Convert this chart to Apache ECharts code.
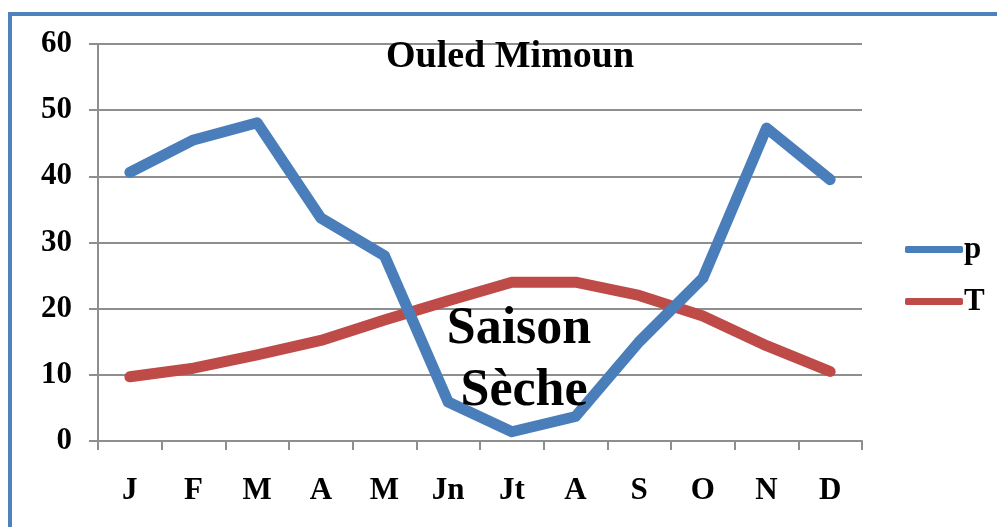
<!DOCTYPE html>
<html>
<head>
<meta charset="utf-8">
<title>Ouled Mimoun</title>
<script src="https://cdn.jsdelivr.net/npm/echarts@6/dist/echarts.min.js"></script>
<style>
    html, body { margin: 0; padding: 0; background: #fff; }
    #chart { width: 997px; height: 527px; }
</style>
</head>
<body>
<div id="chart"></div>
<script>
    // mois
    const months = ['J', 'F', 'M', 'A', 'M', 'Jn', 'Jt', 'A', 'S', 'O', 'N', 'D'];
    // précipitations (p) et températures (T)
    const pValues = [40.6, 45.5, 48.1, 33.7, 28.0, 5.9, 1.4, 3.7, 15.0, 24.6, 47.3, 39.5];
    const tValues = [9.7, 11.0, 13.0, 15.2, 18.3, 21.2, 24.0, 24.0, 22.0, 18.9, 14.4, 10.5];
    const yTicks = [0, 10, 20, 30, 40, 50, 60];

    const serif = '"Liberation Serif", "DejaVu Serif", serif';
    const gridGray = '#8e8e8e';
    const blue = '#4A7EBB';
    const red = '#BE4B48';

    const chart = echarts.init(document.getElementById('chart'), null, {renderer: 'canvas'});

    chart.setOption({
        backgroundColor: '#fff',
        animation: false,
        title: {
            text: 'Ouled Mimoun',
            left: 505,
            top: 33,
            textAlign: 'center',
            textStyle: {
                fontFamily: serif,
                fontWeight: 'bold',
                fontSize: 38,
                lineHeight: 38,
                color: '#000'
            }
        },
        legend: {
            orient: 'vertical',
            left: 900,
            top: 229,
            itemWidth: 58,
            itemHeight: 7,
            itemGap: 21,
            icon: 'roundRect',
            textStyle: {
                fontFamily: serif,
                fontWeight: 'bold',
                fontSize: 31,
                lineHeight: 30,
                color: '#000',
                padding: [0, 0, 0, -4]
            },
            data: [
                {name: 'p', itemStyle: {color: blue}},
                {name: 'T', itemStyle: {color: red}}
            ]
        },
        grid: {
            left: 98,
            right: 135,
            top: 44,
            bottom: 86,
            containLabel: false
        },
        xAxis: {
            type: 'category',
            data: months,
            boundaryGap: true,
            axisLine: {lineStyle: {color: gridGray, width: 2}},
            axisTick: {show: true, length: 9, lineStyle: {color: gridGray, width: 2}},
            axisLabel: {
                margin: 34,
                fontFamily: serif,
                fontWeight: 'bold',
                fontSize: 31,
                color: '#000'
            },
            splitLine: {show: false}
        },
        yAxis: {
            type: 'value',
            min: yTicks[0],
            max: yTicks[yTicks.length - 1],
            interval: 10,
            axisLine: {show: true, lineStyle: {color: gridGray, width: 2}},
            axisTick: {show: true, length: 9, lineStyle: {color: gridGray, width: 2}},
            axisLabel: {
                margin: 26,
                fontFamily: serif,
                fontWeight: 'bold',
                fontSize: 31,
                color: '#000'
            },
            splitLine: {lineStyle: {color: gridGray, width: 2}}
        },
        series: [
            {
                name: 'p',
                type: 'line',
                data: pValues,
                symbol: 'none',
                color: blue,
                lineStyle: {width: 11, color: blue, cap: 'round', join: 'round'},
                z: 3
            },
            {
                name: 'T',
                type: 'line',
                data: tValues,
                symbol: 'none',
                color: red,
                lineStyle: {width: 11, color: red, cap: 'round', join: 'round'},
                z: 2
            }
        ],
        graphic: [
            {
                // cadre bleu
                type: 'rect',
                shape: {x: 10, y: 14, width: 1200, height: 700},
                style: {fill: 'none', stroke: '#4F81BD', lineWidth: 4},
                silent: true
            },
            {
                type: 'text',
                x: 519,
                y: 330,
                z: 10,
                style: {
                    text: 'Saison',
                    font: 'bold 52px ' + serif,
                    fill: '#000',
                    textAlign: 'center',
                    textVerticalAlign: 'middle'
                }
            },
            {
                type: 'text',
                x: 524,
                y: 392,
                z: 10,
                style: {
                    text: 'Sèche',
                    font: 'bold 52px ' + serif,
                    fill: '#000',
                    textAlign: 'center',
                    textVerticalAlign: 'middle'
                }
            }
        ]
    });
</script>
</body>
</html>
